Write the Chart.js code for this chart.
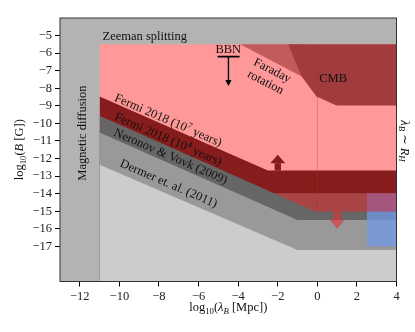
<!DOCTYPE html>
<html lang="en">
<head>
<meta charset="UTF-8">
<title>Magnetic field constraints</title>
<style>
  * { margin: 0; padding: 0; box-sizing: border-box; }
  body { background: #fff; }
  canvas { display: block; }
</style>
<script src="https://cdn.jsdelivr.net/npm/chart.js"></script>
</head>
<body>
<canvas id="chart" width="415" height="332"></canvas>
<script>
// axes: x = log10(lambda_B [Mpc]), y = log10(B [G])
const X_TICKS = [-12, -10, -8, -6, -4, -2, 0, 2, 4];
const Y_TICKS = [-5, -6, -7, -8, -9, -10, -11, -12, -13, -14, -15, -16, -17];

// region boundaries, [x, y]
const FULL_TOP = [[-13, -4], [4, -4]];
const PINK_TOP = [[-11, -5.5], [4, -5.5]];
const FERMI_1E7 = [[-11, -8.47], [-2.5, -12.68], [4, -12.68]];
const FERMI_FLAT = [[-2.2, -13.97], [4, -13.97]];
const FERMI_1E4 = [[-11, -9.56], [-0.1, -15.02], [4, -15.02]];
const NERONOV = [[-11, -10.52], [-1, -15.5], [4, -15.5]];
const DERMER = [[-11, -12.36], [-1, -17.2], [4, -17.2]];
const FARADAY = [[-3.9, -5.5], [-0.79, -7.33]];
const CMB = [[-1.47, -5.5], [-0.79, -7.33], [-0.04, -8.47], [0.97, -8.98], [4, -8.98]];
const BOX_PURPLE = [[2.5, -13.97], [4, -13.97]];
const BOX_BLUE = [[2.5, -15.02], [4, -15.02]];
const HUBBLE_LINE = [[0, -5.5], [0, -15.02]];

// arrows: [x, base, head base, tip]
const ARROW_UP = [-2, -12.68, -12.27, -11.79];
const ARROW_DOWN = [1, -15.02, -15.49, -16.0];
const BBN_BAR = [[-5.04, -6.2], [-3.93, -6.2]];
const BBN_ARROW = [-4.49, -6.2, -7.53, -7.87];

const FONT = '"Liberation Serif", "DejaVu Serif", serif';

const pts = a => a.map(([x, y]) => ({ x, y }));

function area(data, color, fill) {
    return { data: pts(data), backgroundColor: color, borderColor: 'rgba(0,0,0,0)', borderWidth: 0, pointRadius: 0, fill: fill, tension: 0 };
}
function stroke(data, color, w) {
    return { data: pts(data), borderColor: color, borderWidth: w, pointRadius: 0, fill: false, tension: 0 };
}
function arrow(a, color, shaftW, headW) {
    const [x, base, hb, tip] = a;
    return [
        area([[x - shaftW, hb], [x + shaftW, hb]], color, { value: base }),
        area([[x - headW, hb], [x, tip], [x + headW, hb]], color, { value: hb })
    ];
}

const layers = [
    area(FULL_TOP, '#b3b3b3', 'start'),
    area(PINK_TOP, '#ff9898', 'start'),
    area(FERMI_1E7, '#871c1d', 'start'),
    area(FERMI_FLAT, '#a84444', 'start'),
    area(FERMI_1E4, '#666666', 'start'),
    area(NERONOV, '#999999', 'start'),
    area(DERMER, '#cccccc', 'start'),
    area(FARADAY, '#c25b5b', { value: -5.5 }),
    area(CMB, '#a23b3d', { value: -5.5 }),
    area(BOX_PURPLE, '#a5567f', { value: -15.02 }),
    area(BOX_BLUE, 'rgba(112,152,230,0.77)', { value: -17 }),
    ...arrow(ARROW_UP, '#871c1d', 0.17, 0.38),
    ...arrow(ARROW_DOWN, 'rgba(230,45,45,0.6)', 0.2, 0.38),
    stroke(HUBBLE_LINE, 'rgba(190,50,50,0.12)', 1),
    stroke(BBN_BAR, '#000', 1.7),
    stroke([[BBN_ARROW[0], BBN_ARROW[1]], [BBN_ARROW[0], BBN_ARROW[2] - 0.02]], '#000', 1.4),
    area([[BBN_ARROW[0] - 0.16, BBN_ARROW[2]], [BBN_ARROW[0], BBN_ARROW[3]], [BBN_ARROW[0] + 0.16, BBN_ARROW[2]]], '#000', { value: BBN_ARROW[2] })
];
// later layers on top
layers.forEach((d, i) => d.order = -i);

// text: [string, kind]; kind: it, sub, sup
const LABELS = [
    { segs: [['Zeeman splitting']], x: -8.72, y: -5.0, rot: 0 },
    { segs: [['Magnetic diffusion']], x: -11.9, y: -10.55, rot: -90 },
    { segs: [['Fermi 2018 (10'], ['7', 'sup'], [' years)']], x: -7.52, y: -9.8, rot: 23.5 },
    { segs: [['Fermi 2018 (10'], ['4', 'sup'], [' years)']], x: -7.52, y: -10.88, rot: 23.5 },
    { segs: [['Neronov & Vovk (2009)']], x: -7.4, y: -11.85, rot: 23.5 },
    { segs: [['Dermer et. al. (2011)']], x: -7.5, y: -13.4, rot: 23.5 },
    { segs: [['BBN']], x: -4.5, y: -5.76, rot: 0 },
    { segs: [['Faraday']], x: -2.26, y: -6.96, rot: 27 },
    { segs: [['rotation']], x: -2.6, y: -7.63, rot: 27 },
    { segs: [['CMB']], x: 0.8, y: -7.42, rot: 0 },
    { segs: [['λ', 'it'], ['B', 'it sub'], [' ∼ '], ['R', 'it'], ['H', 'it sub']], x: 4.45, y: -11.0, rot: 90 }
];
const X_TITLE = [['log'], ['10', 'sub'], ['('], ['λ', 'it'], ['B', 'it sub'], [' [Mpc])']];
const Y_TITLE = [['log'], ['10', 'sub'], ['('], ['B', 'it'], [' [G])']];

function drawRich(ctx, segs, x, y, rot, size) {
    const parts = segs.map(([t, kind = '']) => {
        const small = kind.includes('sub') || kind.includes('sup');
        const font = (kind.includes('it') ? 'italic ' : '') + (small ? size * 0.7 : size) + 'px ' + FONT;
        ctx.font = font;
        const dy = kind.includes('sub') ? size * 0.22 : kind.includes('sup') ? -size * 0.38 : 0;
        return { t, font, dy, w: ctx.measureText(t).width };
    });
    const total = parts.reduce((s, p) => s + p.w, 0);
    ctx.save();
    ctx.translate(x, y);
    ctx.rotate(rot * Math.PI / 180);
    ctx.fillStyle = '#111';
    ctx.textBaseline = 'alphabetic';
    ctx.textAlign = 'left';
    let cx = -total / 2;
    parts.forEach(p => {
        ctx.font = p.font;
        ctx.fillText(p.t, cx, size * 0.33 + p.dy);
        cx += p.w;
    });
    ctx.restore();
}

const textPlugin = {
    id: 'texts',
    afterDatasetsDraw(chart) {
        const { ctx, chartArea: a, scales: { x, y } } = chart;
        LABELS.forEach(l => drawRich(ctx, l.segs, x.getPixelForValue(l.x), y.getPixelForValue(l.y), l.rot, 12.5));
        ctx.save();
        ctx.strokeStyle = '#333';
        ctx.lineWidth = 1;
        ctx.strokeRect(a.left, a.top, a.right - a.left, a.bottom - a.top);
        ctx.restore();
        drawRich(ctx, X_TITLE, (a.left + a.right) / 2, a.bottom + 25.5, 0, 12.5);
        drawRich(ctx, Y_TITLE, 19, (a.top + a.bottom) / 2, -90, 12.5);
    }
};

const fmt = v => (v < 0 ? '\u2212' : '') + Math.abs(v);
const tickFont = { family: FONT, size: 12.5 };

new Chart(document.getElementById('chart'), {
    type: 'line',
    data: { datasets: layers },
    options: {
        responsive: false,
        animation: false,
        layout: { padding: { left: 0, top: 18, right: 18.5, bottom: 0 } },
        plugins: { legend: { display: false }, tooltip: { enabled: false } },
        scales: {
            x: {
                type: 'linear', min: -13, max: 4,
                afterBuildTicks: s => { s.ticks = X_TICKS.map(v => ({ value: v })); },
                afterFit: s => { s.height = 50.5; },
                ticks: { font: tickFont, color: '#222', padding: 3, maxRotation: 0, autoSkip: false, callback: fmt },
                grid: { drawOnChartArea: false, drawTicks: true, tickLength: 5, color: '#000' },
                border: { display: false }
            },
            y: {
                type: 'linear', min: -19, max: -4,
                afterBuildTicks: s => { s.ticks = Y_TICKS.map(v => ({ value: v })); },
                afterFit: s => { s.width = 60; },
                ticks: { font: tickFont, color: '#222', padding: 3, autoSkip: false, callback: fmt },
                grid: { drawOnChartArea: false, drawTicks: true, tickLength: 5, color: '#000' },
                border: { display: false }
            }
        }
    },
    plugins: [textPlugin]
});
</script>
</body>
</html>
